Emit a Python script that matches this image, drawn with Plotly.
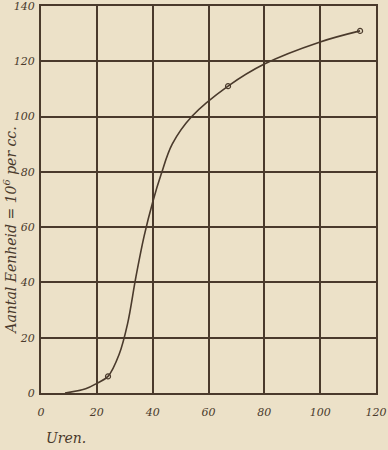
import plotly.graph_objects as go

# Smooth growth curve (hours vs. count, units of 10^6 per cc)
curve_hours = [8.6, 16, 20, 24, 28, 31, 34, 37, 40, 43, 47, 54, 67, 80, 100, 114.3]
curve_counts = [0, 1.5, 3.5, 6, 14, 25, 42, 57, 69, 79, 90, 100, 111, 119, 127, 131]

# Observed points (small open circles)
obs_hours = [24, 67, 114.3]
obs_counts = [6, 111, 131]

x_ticks = [0, 20, 40, 60, 80, 100, 120]
y_ticks = [0, 20, 40, 60, 80, 100, 120, 140]

ink = "#4a3a2c"
paper = "#ece1c8"
font = dict(family="DejaVu Serif", size=11, color=ink, style="italic")
title_font = dict(family="DejaVu Serif", size=14, color=ink, style="italic")

fig = go.Figure()
fig.add_trace(go.Scatter(x=curve_hours, y=curve_counts, mode="lines",
                         line=dict(color=ink, width=1.6, shape="spline", smoothing=1.0),
                         hoverinfo="skip"))
fig.add_trace(go.Scatter(x=obs_hours, y=obs_counts, mode="markers",
                         marker=dict(symbol="circle-open", size=5, color=ink, line=dict(width=1.2, color=ink))))

fig.update_layout(
    width=388, height=450,
    margin=dict(l=41, r=12, t=6, b=57),
    paper_bgcolor=paper, plot_bgcolor=paper,
    showlegend=False,
    font=font,
    annotations=[
        dict(text="Uren.", xref="paper", yref="paper", x=0.075, y=-0.116,
             xanchor="center", yanchor="middle", showarrow=False, font=title_font),
        dict(text="Aantal Eenheid = 10<sup>6</sup> per cc.", xref="paper", yref="paper",
             x=-0.092, y=0.42, xanchor="center", yanchor="middle", textangle=-90,
             showarrow=False, font=title_font),
    ],
)
fig.update_xaxes(range=[0, 120], tickvals=x_ticks, ticktext=[str(v) for v in x_ticks],
                 showgrid=True, gridcolor=ink, gridwidth=2, zeroline=False,
                 showline=True, linecolor=ink, linewidth=2, mirror=True,
                 ticks="", ticklabelstandoff=8, tickfont=font, automargin=False,
                 ticklabeloverflow="allow")
fig.update_yaxes(range=[0, 140], tickvals=y_ticks, ticktext=[str(v) for v in y_ticks],
                 showgrid=True, gridcolor=ink, gridwidth=2, zeroline=False,
                 showline=True, linecolor=ink, linewidth=2, mirror=True,
                 ticks="", ticklabelstandoff=2, tickfont=font, automargin=False,
                 ticklabeloverflow="allow")

fig.write_html("out.html", config={"displayModeBar": False},
               post_script="document.body.style.margin='0';")
